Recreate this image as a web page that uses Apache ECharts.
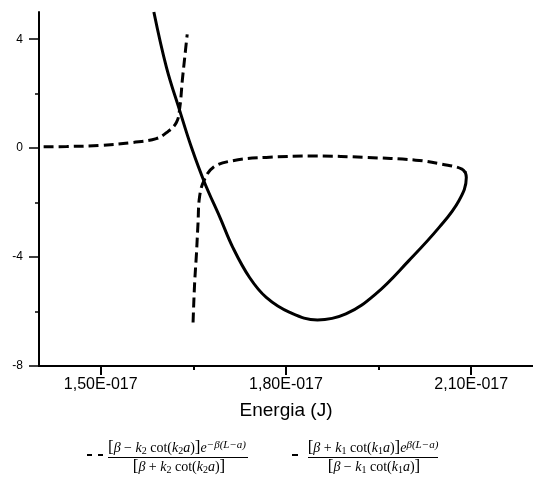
<!DOCTYPE html>
<html>
<head>
<meta charset="utf-8">
<script src="https://cdn.jsdelivr.net/npm/echarts@6/dist/echarts.min.js"></script>
<style>
html,body{margin:0;padding:0;background:#fff;}
#chart{width:533px;height:477px;}
</style>
</head>
<body>
<div id="chart"></div>
<script>
// Energies in units of 1e-17 J
const xTickMajor = [1.5, 1.8, 2.1];
const xTickMinor = [1.65, 1.95];
const yTickMajor = [-8, -4, 0, 4];
const yTickMinor = [-6, -2, 2];

// solid curve
const solidX = [1.586, 1.6065, 1.628, 1.647, 1.668, 1.693, 1.714, 1.741, 1.768, 1.806, 1.851, 1.897, 1.945, 1.999, 2.048, 2.080, 2.092, 2.090];
const solidY = [5.00, 2.96, 1.37, 0.02, -1.26, -2.54, -3.65, -4.75, -5.48, -6.03, -6.31, -6.09, -5.36, -4.13, -2.91, -1.93, -1.08, -0.86];

// dashed curve, left branch
const dashLeftX = [1.4075, 1.445, 1.499, 1.553, 1.590, 1.6065, 1.6225, 1.628, 1.632, 1.636, 1.640];
const dashLeftY = [0.05, 0.06, 0.10, 0.21, 0.35, 0.57, 0.94, 1.49, 2.47, 3.33, 4.18];

// dashed curve, right branch
const dashRightX = [1.6495, 1.652, 1.655, 1.6575, 1.660, 1.667, 1.682, 1.714, 1.768, 1.849, 1.929, 2.010, 2.053, 2.085, 2.093];
const dashRightY = [-6.40, -4.97, -3.87, -2.76, -1.79, -1.20, -0.71, -0.46, -0.34, -0.29, -0.34, -0.44, -0.59, -0.77, -1.02];

const xAxisName = 'Energia (J)';

function pairs(xs, ys) { return xs.map((x, i) => [x, ys[i]]); }
function fmtX(v) { return v.toFixed(2).replace('.', ',') + 'E-017'; }

const chart = echarts.init(document.getElementById('chart'), null, {renderer: 'canvas'});

const axisLineStyle = {color: '#000', width: 2};
const sans = '"Liberation Sans", Arial, sans-serif';
const serif = '"Liberation Serif", "Times New Roman", serif';

const richMath = {
  t: {fontFamily: serif, fontSize: 14, color: '#000'},
  i: {fontFamily: serif, fontSize: 14, fontStyle: 'italic', color: '#000'},
  b: {fontFamily: serif, fontSize: 17, color: '#000'},
  s: {fontFamily: serif, fontSize: 10, color: '#000', verticalAlign: 'bottom'},
  p: {fontFamily: serif, fontSize: 11, fontStyle: 'italic', color: '#000', verticalAlign: 'top'}
};

const num1 = '{b|[}{i|β}{t| − }{i|k}{s|2}{t| cot(}{i|k}{s|2}{i|a}{t|)}{b|]}{i|e}{p|−β(L−a)}';
const den1 = '{b|[}{i|β}{t| + }{i|k}{s|2}{t| cot(}{i|k}{s|2}{i|a}{t|)}{b|]}';
const num2 = '{b|[}{i|β}{t| + }{i|k}{s|1}{t| cot(}{i|k}{s|1}{i|a}{t|)}{b|]}{i|e}{p|β(L−a)}';
const den2 = '{b|[}{i|β}{t| − }{i|k}{s|1}{t| cot(}{i|k}{s|1}{i|a}{t|)}{b|]}';

const option = {
  animation: false,
  backgroundColor: '#fff',
  grid: {left: 39, top: 12, width: 505, height: 354, containLabel: false},
  xAxis: [{
    type: 'value', min: 1.4, max: 2.2,
    axisLine: {show: true, onZero: false, lineStyle: axisLineStyle},
    axisTick: {show: true, inside: false, length: 9, lineStyle: {color: '#000', width: 2}, customValues: xTickMajor},
    axisLabel: {show: true, customValues: xTickMajor, formatter: fmtX, margin: 11, color: '#000',
      fontFamily: sans, fontSize: 16},
    splitLine: {show: false},
    name: xAxisName, nameLocation: 'middle', nameGap: 35,
    nameTextStyle: {fontFamily: sans, fontSize: 19, color: '#000'}
  }, {
    type: 'value', min: 1.4, max: 2.2, position: 'bottom',
    axisLine: {show: false, onZero: false},
    axisTick: {show: true, inside: false, length: 4, lineStyle: {color: '#000', width: 2}, customValues: xTickMinor},
    axisLabel: {show: false},
    splitLine: {show: false}
  }],
  yAxis: [{
    type: 'value', min: -8, max: 5,
    axisLine: {show: true, onZero: false, lineStyle: axisLineStyle},
    axisTick: {show: true, inside: false, length: 10, lineStyle: {color: '#000', width: 1.5}, customValues: yTickMajor},
    axisLabel: {show: true, customValues: yTickMajor, margin: 16, color: '#000',
      fontFamily: sans, fontSize: 12},
    splitLine: {show: false}
  }, {
    type: 'value', min: -8, max: 5, position: 'left',
    axisLine: {show: false, onZero: false},
    axisTick: {show: true, inside: false, length: 4, lineStyle: {color: '#000', width: 1.5}, customValues: yTickMinor},
    axisLabel: {show: false},
    splitLine: {show: false}
  }],
  series: [{
    type: 'line', data: pairs(dashLeftX, dashLeftY), xAxisIndex: 0, yAxisIndex: 0,
    showSymbol: false, smooth: 0.4, lineStyle: {color: '#000', width: 3, type: [10, 5]}
  }, {
    type: 'line', data: pairs(dashRightX, dashRightY), xAxisIndex: 0, yAxisIndex: 0,
    showSymbol: false, smooth: 0.4, lineStyle: {color: '#000', width: 3, type: [10, 5]}
  }, {
    type: 'line', data: pairs(solidX, solidY), xAxisIndex: 0, yAxisIndex: 0,
    showSymbol: false, smooth: 0.4, lineStyle: {color: '#000', width: 3, type: 'solid'}
  }],
  graphic: [
    {type: 'line', shape: {x1: 87, y1: 455, x2: 103, y2: 455}, style: {stroke: '#000', lineWidth: 2, lineDash: [5, 6]}},
    {type: 'text', x: 177, y: 448, style: {text: num1, rich: richMath, align: 'center', verticalAlign: 'middle'}},
    {type: 'line', shape: {x1: 108, y1: 457.5, x2: 248, y2: 457.5}, style: {stroke: '#000', lineWidth: 1}},
    {type: 'text', x: 179, y: 467, style: {text: den1, rich: richMath, align: 'center', verticalAlign: 'middle'}},

    {type: 'line', shape: {x1: 292, y1: 455, x2: 298, y2: 455}, style: {stroke: '#000', lineWidth: 2}},
    {type: 'text', x: 373, y: 448, style: {text: num2, rich: richMath, align: 'center', verticalAlign: 'middle'}},
    {type: 'line', shape: {x1: 308, y1: 457.5, x2: 438, y2: 457.5}, style: {stroke: '#000', lineWidth: 1}},
    {type: 'text', x: 374, y: 467, style: {text: den2, rich: richMath, align: 'center', verticalAlign: 'middle'}}
  ]
};

chart.setOption(option);
</script>
</body>
</html>
